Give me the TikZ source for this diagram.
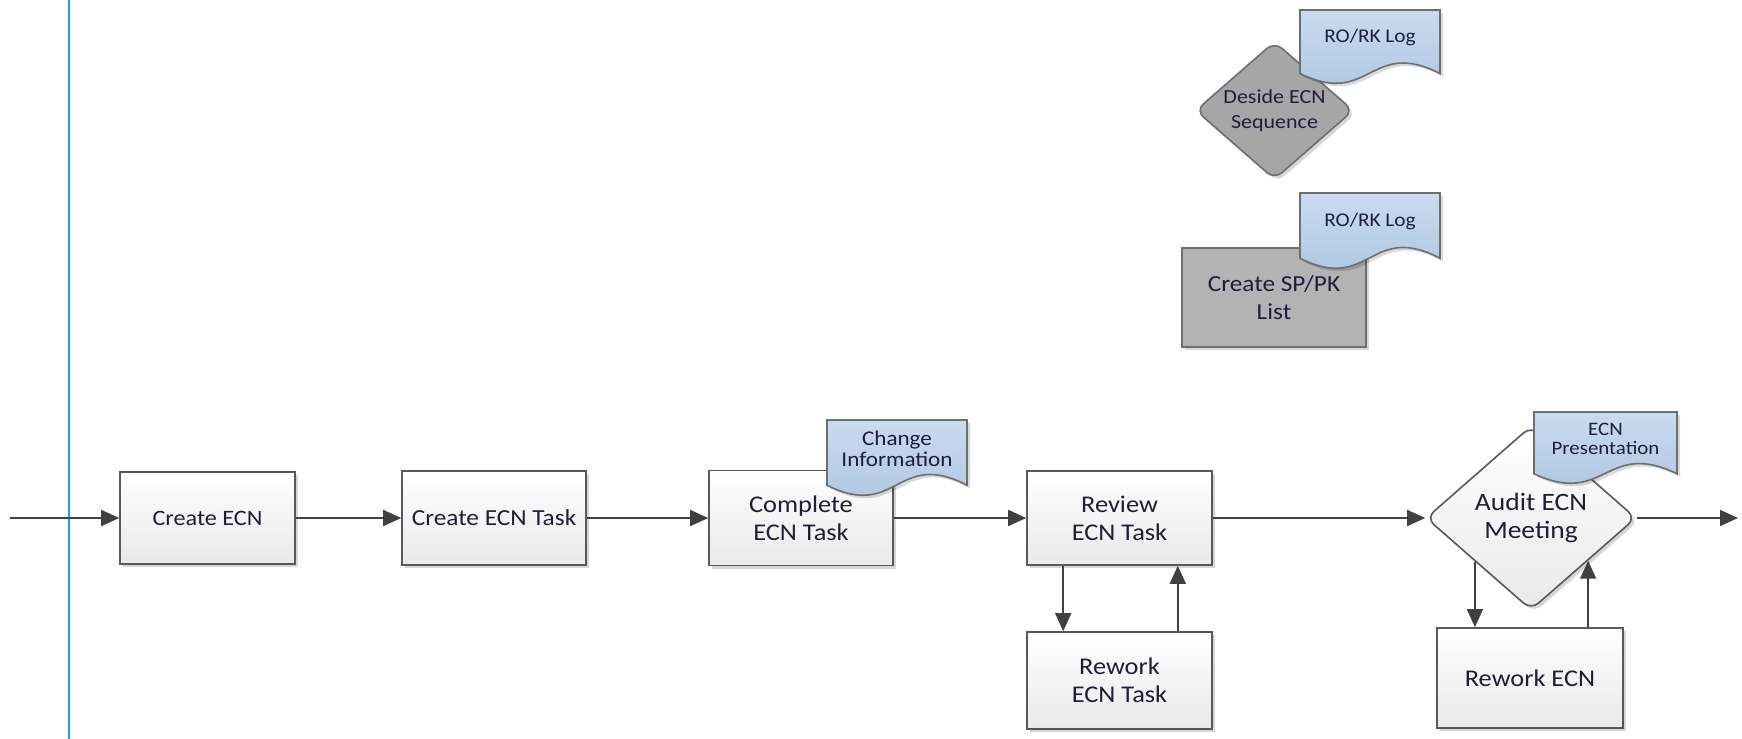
\documentclass[tikz,border=0pt]{standalone}
\usepackage{fontspec}
\setmainfont{Carlito}[FakeStretch=1.1]
\usetikzlibrary{arrows.meta,shapes.geometric,shadows,calc}
\definecolor{bord}{HTML}{595959}
\definecolor{boxbot}{HTML}{E9E9E9}
\definecolor{arrc}{HTML}{404040}
\definecolor{txt}{HTML}{1E1E3C}
\definecolor{lane}{HTML}{12A3E3}
\definecolor{doctop}{HTML}{C9DBEF}
\definecolor{docbot}{HTML}{A9C3DF}
\definecolor{docbord}{HTML}{6E6E6E}
\definecolor{dgray}{HTML}{A6A6A6}
\definecolor{sgray}{HTML}{B3B3B3}
\newcommand\docpath[4]{(#1,#2) -- ({#1+#3},#2) -- ({#1+#3},{#2+0.87*#4}) .. controls ({#1+0.5*#3},{#2+0.38*#4}) and ({#1+0.5*#3},{#2+1.34*#4}) .. (#1,{#2+0.87*#4}) -- cycle}
\newcommand\docshape[7]{%
  \fill[black,opacity=0.15,shift={(3,3)}] \docpath{#2}{#3}{#4}{#5};
  \filldraw[docsty] \docpath{#2}{#3}{#4}{#5};
  \node[doctext,font=\fontsize{#6}{#6pt}\selectfont] (#1) at ({#2+0.5*#4},{#3+0.38*#5}) {#7};}
\begin{document}
\begin{tikzpicture}[x=0.5pt,y=-0.5pt,
  shd/.style={drop shadow={shadow xshift=1.5pt,shadow yshift=-1.5pt,opacity=0.16,fill=black}},
  box/.style={rectangle,draw=bord,line width=0.8pt,top color=white,bottom color=boxbot,shd,
    align=center,inner sep=2pt,text=txt},
  graybox/.style={rectangle,draw=docbord,line width=0.8pt,fill=sgray,shd,align=center,inner sep=2pt,text=txt},
  dia/.style={diamond,draw=bord,line width=0.8pt,rounded corners=5pt,inner sep=0pt,shd},
  dlabel/.style={align=center,text=txt,inner sep=0pt},
  docsty/.style={draw=docbord,line width=0.8pt,top color=doctop,bottom color=docbot},
  doctext/.style={align=center,text=txt,inner sep=1pt},
  arr/.style={draw=arrc,line width=0.8pt,-{Triangle[length=9pt,width=8pt]}},
  fs/.style={font=\fontsize{#1}{14}\selectfont}]
\useasboundingbox (0,0) rectangle (1742,739);
\fill[white] (0,0) rectangle (1742,739);
% swimlane line
\coordinate (lt) at (69,0);
\coordinate (lb) at (69,739);
\draw[lane,line width=1pt] (lt) -- (lb);
% main boxes
\node[box,fs=11,minimum width=87.5pt,minimum height=46pt] (ce) at (207.5,518) {Create ECN};
\node[box,fs=11.5,minimum width=92pt,minimum height=47pt] (cet) at (494,518) {Create ECN Task};
\node[box,fs=12,minimum width=92pt,minimum height=47.5pt] (cpt) at (801,518) {Complete\\ECN Task};
\node[box,fs=12,minimum width=92.5pt,minimum height=47pt] (rev) at (1119.5,518) {Review\\ECN Task};
\node[box,fs=12,minimum width=92.5pt,minimum height=48.5pt] (rwt) at (1119.5,680.5) {Rework\\ECN Task};
\node[dia,top color=white,bottom color=boxbot,minimum width=105pt,minimum height=92pt,
  label={[dlabel,fs=12.5]center:Audit ECN\\Meeting}] (audit) at (1531,518) {};
\node[box,fs=12,minimum width=93pt,minimum height=50pt] (rwe) at (1530,678) {Rework ECN};
% top right
\node[dia,fill=dgray,draw=docbord,minimum width=79pt,minimum height=69pt,
  label={[dlabel,font=\fontsize{10}{12.5}\selectfont]center:Deside ECN\\Sequence}] (des) at (1274.5,110.5) {};
\node[graybox,fs=11.5,minimum width=92pt,minimum height=49.5pt] (sppk) at (1274,297.5) {Create SP/PK\\List};
% documents
\docshape{rk1}{1300}{10}{140}{73}{9.7}{RO/RK Log}
\docshape{rk2}{1300}{193}{140}{75}{9.7}{RO/RK Log}
\docshape{chg}{827}{420}{140}{75}{10.5}{Change\\Information}
\docshape{pres}{1534}{412}{143}{71}{9.5}{ECN\\Presentation}
% connectors
\coordinate (in) at (10,518);
\coordinate (out) at (1738,518);
\draw[arr] (in) -- (ce.west);
\draw[arr] (ce.east) -- (cet.west);
\draw[arr] (cet.east) -- (cpt.west);
\draw[arr] (cpt.east) -- (rev.west);
\draw[arr] (rev.east) -- (audit.west);
\draw[arr] (audit.east) -- (out);
\draw[arr] ([xshift=18.5pt]rev.south west) -- ([xshift=18.5pt]rwt.north west);
\draw[arr] ([xshift=-17.5pt]rwt.north east) -- ([xshift=-17.5pt]rev.south east);
\coordinate (a1) at ($(audit.west)!0.47!(audit.south)$);
\coordinate (a2) at ($(audit.south)!0.54!(audit.east)$);
\draw[arr] (a1) -- (a1 |- rwe.north);
\draw[arr] (a2 |- rwe.north) -- (a2);
\end{tikzpicture}
\end{document}
